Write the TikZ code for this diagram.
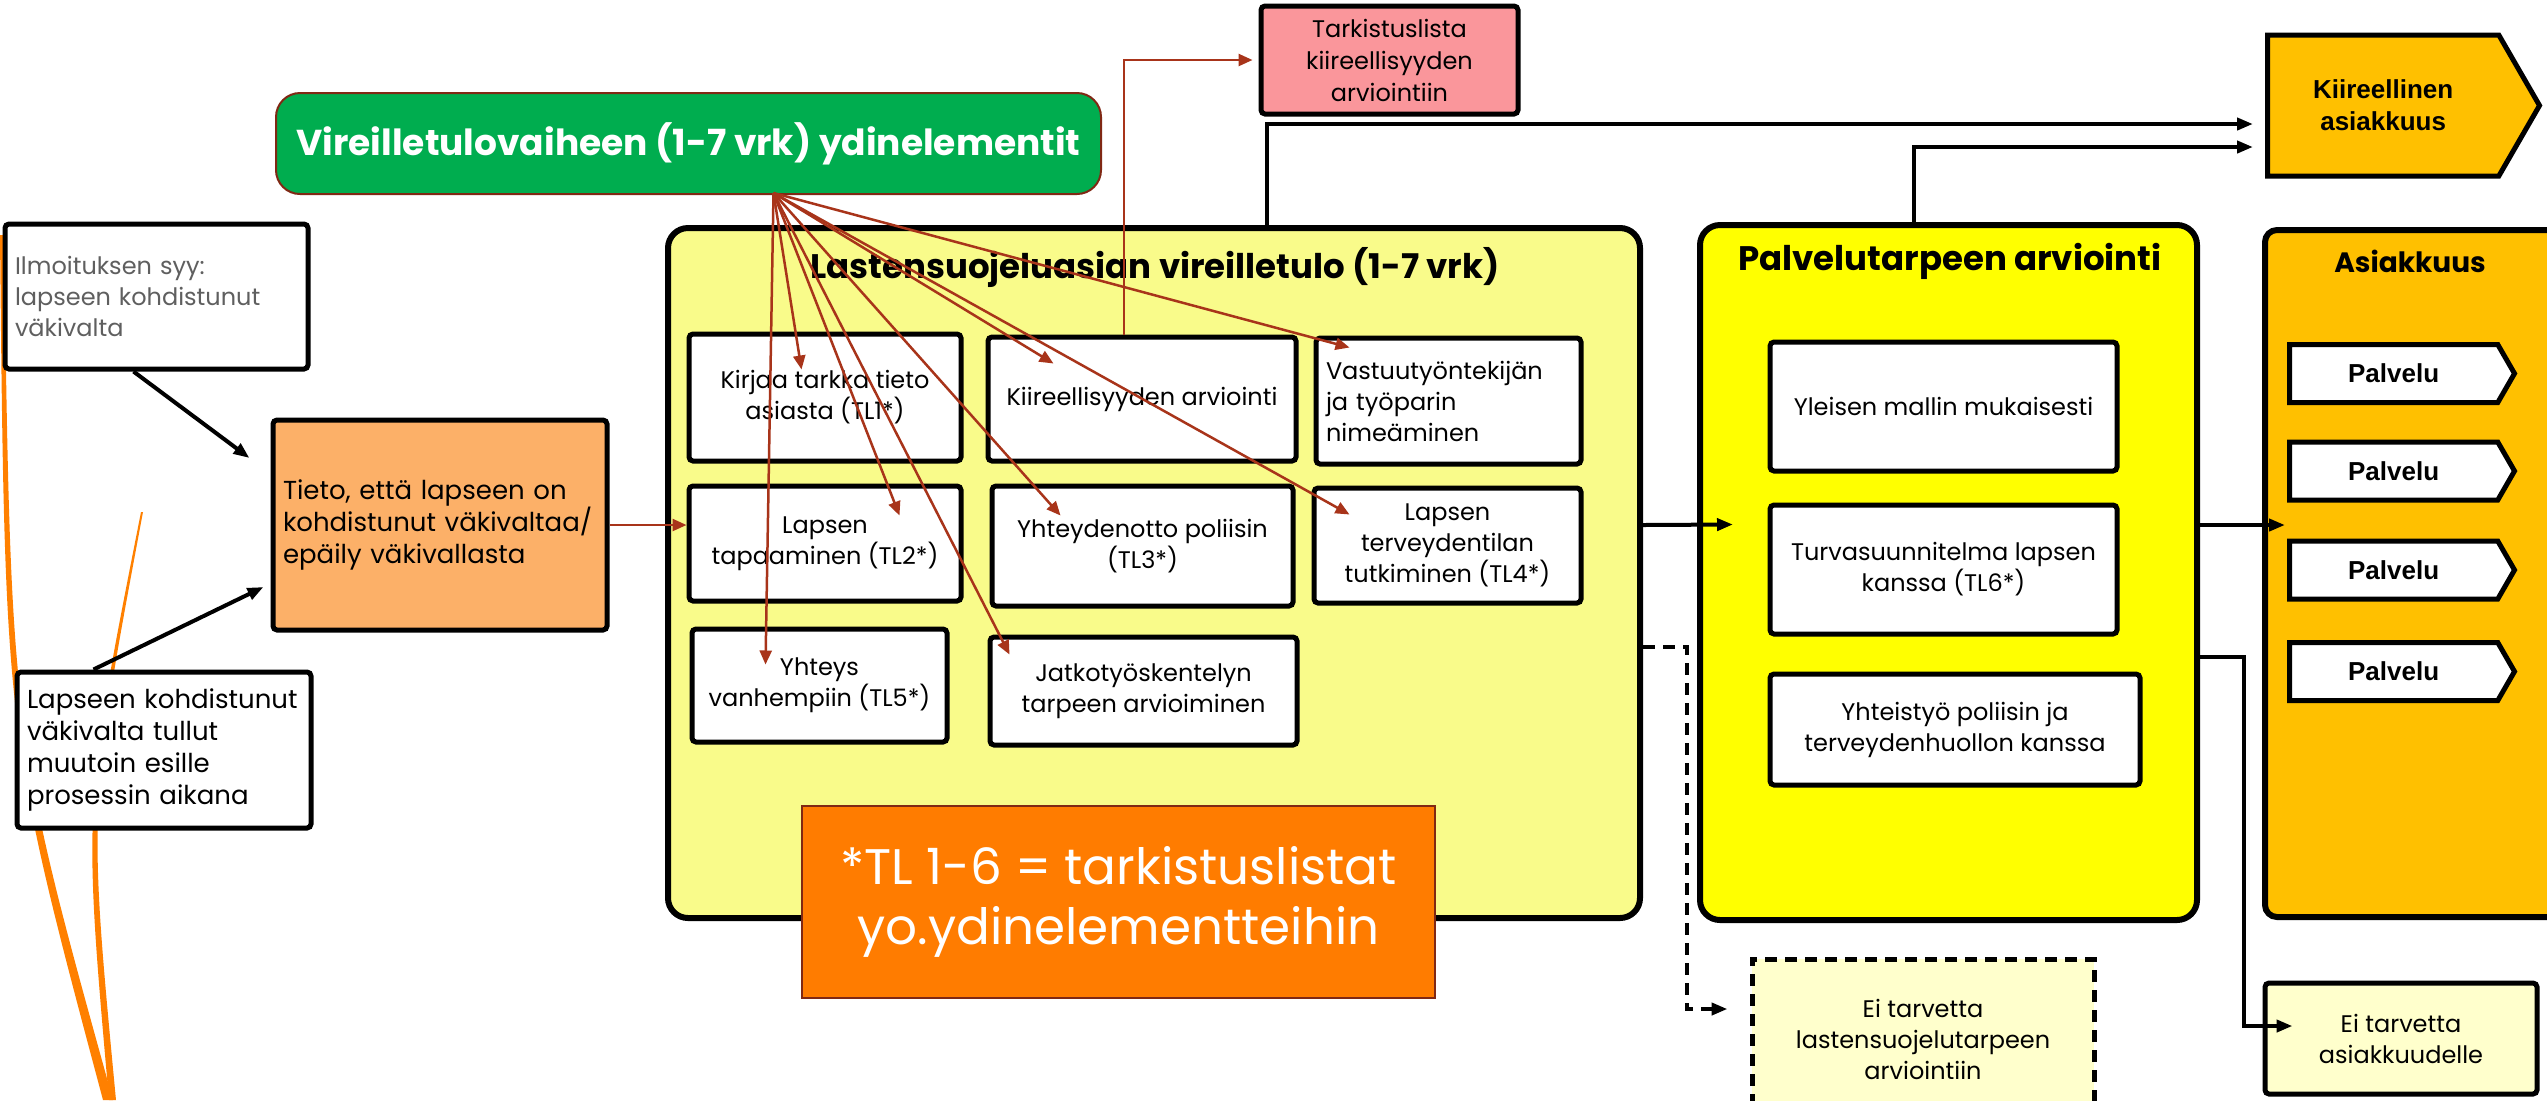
\documentclass[tikz,border=0pt]{standalone}
\usepackage{fontspec}
\setmainfont{Poppins}
\newfontfamily\arialfont{Liberation Sans}
\usetikzlibrary{shapes.symbols,arrows.meta,positioning}

\definecolor{vgreen}{RGB}{0,173,79}
\definecolor{brick}{RGB}{128,40,20}
\definecolor{redarrow}{RGB}{168,52,26}
\definecolor{paleyellow}{RGB}{249,251,138}
\definecolor{brightyellow}{RGB}{255,255,0}
\definecolor{amber}{RGB}{255,192,0}
\definecolor{peach}{RGB}{252,176,104}
\definecolor{notebg}{RGB}{255,124,0}
\definecolor{pinkbg}{RGB}{250,150,155}
\definecolor{creambg}{RGB}{255,255,204}
\definecolor{greytext}{RGB}{95,95,95}
\definecolor{theme}{RGB}{255,128,0}

\tikzset{
  box/.style={draw, line width=2.5pt, fill=white, rounded corners=2pt, align=center, inner sep=3pt, font=\fontsize{12}{15.5}\selectfont},
  lbox/.style={box, align=left, inner xsep=5pt},
  stage/.style={draw, line width=3pt, rounded corners=10pt},
  redarr/.style={draw=redarrow, line width=1.25pt, -{Triangle[length=7pt,width=6pt]}},
  blkarr/.style={draw, line width=2pt, -{Triangle[length=8pt,width=6pt]}},
  palv/.style={signal, signal to=east, signal pointer angle=120, draw, line width=2.5pt, fill=white, minimum width=112.5pt, minimum height=29pt, font=\arialfont\bfseries\fontsize{13}{15}\selectfont, anchor=west},
}

\begin{document}
\begin{tikzpicture}[x=0.5pt,y=-0.5pt]
\useasboundingbox (0,0) rectangle (2547,1100);

% theme swooshes
\fill[theme] (0,235) .. controls (5,733) .. (103,1100) -- (113,1100) .. controls (11,733) .. (4,235) -- cycle;
\fill[theme] (141,512) .. controls (83,806) .. (109,1100) -- (116,1100) .. controls (88,806) .. (143,512) -- cycle;

% left side
\node[draw=brick, line width=1pt, fill=vgreen, rounded corners=12pt, minimum width=412.5pt, minimum height=50.5pt, text=white, font=\bfseries\fontsize{18}{20}\selectfont] (green) at (688.5,143.5) {Vireilletulovaiheen (1-7 vrk) ydinelementit};
\node[lbox, text width=141.5pt, minimum height=72.5pt, text=greytext] (ilm) at (156.5,296.5) {Ilmoituksen syy:\\ lapseen kohdistunut\\ väkivalta};
\node[lbox, fill=peach, text width=157pt, minimum height=105pt, font=\fontsize{13}{16}\selectfont] (tieto) at (440,525) {Tieto, että lapseen on\\ kohdistunut väkivaltaa/\\ epäily väkivallasta};
\node[lbox, text width=137pt, minimum height=78pt, font=\fontsize{13}{16}\selectfont] (lap) at (164,750) {Lapseen kohdistunut\\ väkivalta tullut\\ muutoin esille\\ prosessin aikana};

% vireilletulo
\node[stage, fill=paleyellow, minimum width=486pt, minimum height=345pt] (vt) at (1154,573) {};
\node[font=\bfseries\fontsize{17}{20}\selectfont] (vttitle) at (1155,267) {Lastensuojeluasian vireilletulo (1-7 vrk)};
\node[box, minimum width=136pt, minimum height=63.5pt] (tl1) at (825,397.5) {Kirjaa tarkka tieto\\ asiasta (TL1*)};
\node[box, minimum width=154pt, minimum height=62pt] (kii) at (1142,399) {Kiireellisyyden arviointi};
\node[lbox, text width=122.5pt, minimum height=63pt] (vas) at (1448.5,401) {Vastuutyöntekijän\\ ja työparin\\ nimeäminen};
\node[box, minimum width=136pt, minimum height=57.5pt] (tl2) at (825,543.5) {Lapsen\\ tapaaminen (TL2*)};
\node[box, minimum width=150.5pt, minimum height=60pt] (tl3) at (1142.5,546) {Yhteydenotto poliisin\\ (TL3*)};
\node[box, minimum width=133.5pt, minimum height=57.5pt] (tl4) at (1447.5,545.5) {Lapsen\\ terveydentilan\\ tutkiminen (TL4*)};
\node[box, minimum width=127.5pt, minimum height=56.5pt] (tl5) at (819.5,685.5) {Yhteys\\ vanhempiin (TL5*)};
\node[box, minimum width=153.5pt, minimum height=54pt] (jat) at (1143.5,691) {Jatkotyöskentelyn\\ tarpeen arvioiminen};
\node[draw=brick, line width=1pt, fill=notebg, text=white, minimum width=316.5pt, minimum height=96pt, align=center, font=\fontsize{25}{30}\selectfont] (note) at (1118.5,902) {*TL 1-6 = tarkistuslistat\\ yo.ydinelementteihin};
\node[box, fill=pinkbg, minimum width=128.5pt, minimum height=54pt, font=\fontsize{12}{16}\selectfont] (tark) at (1389.5,60) {Tarkistuslista\\ kiireellisyyden\\ arviointiin};

% palvelutarpeen arviointi
\node[stage, fill=brightyellow, minimum width=248.5pt, minimum height=347.5pt] (pta) at (1948.5,572.5) {};
\node[font=\bfseries\fontsize{17}{20}\selectfont] (ptatitle) at (1950,261) {Palvelutarpeen arviointi};
\node[box, minimum width=173.5pt, minimum height=64.5pt] (yle) at (1943.5,406.5) {Yleisen mallin mukaisesti};
\node[box, minimum width=173.5pt, minimum height=64.5pt] (tur) at (1943.5,569.5) {Turvasuunnitelma lapsen\\ kanssa (TL6*)};
\node[box, minimum width=185pt, minimum height=55.5pt] (yht) at (1955,729.5) {Yhteistyö poliisin ja\\ terveydenhuollon kanssa};
\node[box, dashed, dash pattern=on 6pt off 4pt, fill=creambg, rounded corners=0pt, minimum width=171pt, minimum height=80.5pt] (eil) at (1923,1039.5) {Ei tarvetta\\ lastensuojelutarpeen\\ arviointiin};

% asiakkuus
\node[signal, signal to=east, signal pointer angle=120, draw, line width=2.5pt, fill=amber, minimum width=136pt, minimum height=70.5pt, anchor=west, align=center, font=\arialfont\bfseries\fontsize{13}{16}\selectfont] (kas) at (2265,105.5) {Kiireellinen\\ asiakkuus};
\node[draw, line width=3pt, fill=amber, rounded corners=6pt, minimum width=155pt, minimum height=343.5pt] (asi) at (2420,573.5) {};
\node[font=\bfseries\fontsize{14}{16}\selectfont] (asititle) at (2410,261) {Asiakkuus};
\foreach \y/\n in {373.5/p1, 471/p2, 570/p3, 671.5/p4}
  \node[palv] (\n) at (2287,\y) {Palvelu};
\node[box, fill=creambg, minimum width=136pt, minimum height=55.5pt] (eia) at (2401,1038.5) {Ei tarvetta\\ asiakkuudelle};

% connectors
\draw[blkarr] ([shift={(131,0)}]ilm.south west) -- ([shift={(-21,-67)}]tieto.west);
\draw[blkarr] ([shift={(79,0)}]lap.north west) -- ([shift={(-7,62)}]tieto.west);
\draw[redarr] (tieto.east) -- (tieto.east -| tl2.west);

\coordinate (src) at ([shift={(85,-2)}]green.south);
\foreach \t/\dx/\dy in {tl1/115/38, kii/68/29, vas/36/12, tl2/213/32, tl3/71/32, tl4/38/29, tl5/76/38, jat/22/20}
  \draw[redarr] (src) -- ([shift={(\dx,\dy)}]\t.north west);
\draw[redarr] ([shift={(-18,0)}]kii.north) |- ([shift={(-6,0)}]tark.west);

\draw[blkarr] ([shift={(113,0)}]vt.north) |- ([shift={(-12,18.5)}]kas.west);
\draw[blkarr] ([shift={(-34.5,0)}]pta.north) |- ([shift={(-12,41.5)}]kas.west);
\draw[blkarr] ([shift={(0,-48)}]vt.east) -- ([shift={(36,-48)}]pta.west);
\draw[blkarr] ([shift={(0,-47.5)}]pta.east) -- ([shift={(23,-48.5)}]asi.west);
\draw[blkarr, dash pattern=on 6pt off 4pt] ([shift={(0,74)}]vt.east) -- ++(44,0) |- ([shift={(-22,-30.5)}]eil.west);
\draw[blkarr] ([shift={(0,84.5)}]pta.east) -- ++(44,0) |- ([shift={(30,-12.5)}]eia.west);
\end{tikzpicture}
\end{document}
